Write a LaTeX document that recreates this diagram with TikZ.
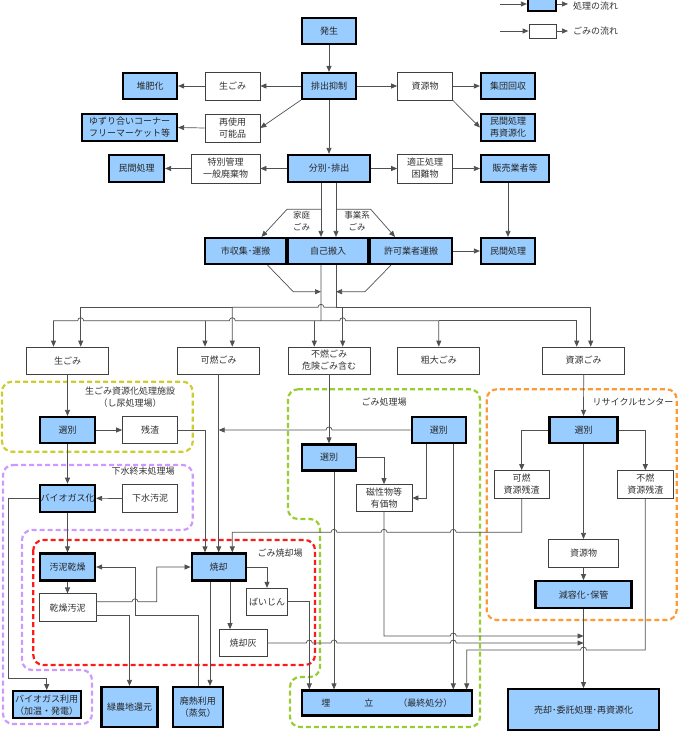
\documentclass[tikz,border=0pt]{standalone}
\usepackage{fontspec}
\setmainfont{Noto Sans CJK JP}
\usetikzlibrary{arrows.meta}
\definecolor{cProc}{HTML}{99CCFF}
\definecolor{cNama}{HTML}{CCCC33}
\definecolor{cGesui}{HTML}{CC99FF}
\definecolor{cShou}{HTML}{FF1A1A}
\definecolor{cShori}{HTML}{99CC33}
\definecolor{cRecy}{HTML}{FF9933}
\definecolor{cLine}{HTML}{505050}

% hop over a vertical line, going right / going left
\newcommand{\hopR}[2]{-- ({#1-3},#2) arc[start angle=180,end angle=360,radius=3]}
\newcommand{\hopL}[2]{-- ({#1+3},#2) arc[start angle=0,end angle=-180,radius=3]}

\begin{document}
\begin{tikzpicture}[
    x=1pt, y=-1pt,
    font=\fontsize{9}{12}\selectfont,
    proc/.style={draw=black, line width=2.2pt, fill=cProc, align=center,
                 inner sep=0pt, text=black!85},
    gomi/.style={draw=black!75, line width=0.7pt, fill=white, align=center,
                 inner sep=0pt, text=black!80},
    sz/.style 2 args={minimum width=#1, minimum height=#2},
    region/.style={dash pattern=on 5pt off 3pt, line width=2.2pt,
                   rounded corners=10pt},
    ln/.style={draw=cLine, line width=0.7pt},
    arr/.style={ln, -{Triangle[length=6pt,width=5pt]}},
    lbl/.style={inner sep=1pt, text=black!80, align=center},
]
\useasboundingbox (0,0) rectangle (678,741);

% ===================== Leyenda =====================
\node[proc, sz={28}{14}] (lgProc) at (542,4) {};
\node[gomi, sz={27}{14}] (lgGomi) at (542.5,31) {};
\coordinate (lgProcIn) at (500,4);
\coordinate (lgProcOut) at (568,4);
\coordinate (lgGomiIn) at (500,31);
\coordinate (lgGomiOut) at (568,31);
\draw[arr] (lgProcIn) -- (lgProc.west);
\draw[arr] (lgProc.east) -- (lgProcOut);
\draw[arr] (lgGomiIn) -- (lgGomi.west);
\draw[arr] (lgGomi.east) -- (lgGomiOut);
\node[lbl, anchor=west] (lgProcTxt) at (572,6) {処理の流れ};
\node[lbl, anchor=west] (lgGomiTxt) at (572,31) {ごみの流れ};

% ===================== Areas =====================
\draw[region, draw=cNama] (2,381.7) rectangle (192.7,451.7);
\draw[region, draw=cGesui] (3,465) -- (192.7,465) -- (192.7,530) -- (22,530)
      -- (22,670) -- (92,670) -- (92,724) -- (3,724) -- cycle;
\draw[region, draw=cShou] (33.3,540) rectangle (315,665);
\draw[region, draw=cShori] (288,389.3) -- (480,389.3) -- (480,727) -- (290,727)
      -- (290,677) -- (320,677) -- (320,519) -- (288,519) -- cycle;
\draw[region, draw=cRecy] (486.7,389.3) rectangle (676.7,620);

\node[lbl] (namaLbl) at (130,397.6) {生ごみ資源化処理施設\\（し尿処理場）};
\node[lbl] (gesuiLbl) at (143,471) {下水終末処理場};
\node[lbl] (shouLbl) at (280,553) {ごみ焼却場};
\node[lbl] (shoriLbl) at (384,402) {ごみ処理場};
\node[lbl] (recyLbl) at (633,402) {リサイクルセンター};

% ===================== Generation / discharge =====================
\node[proc, sz={54}{26}] (hassei) at (329,31) {発生};
\node[proc, sz={54}{26}] (yokusei) at (329,86) {排出抑制};
\node[gomi, sz={55}{28}] (namaA) at (232.5,86) {生ごみ};
\node[proc, sz={54}{26}] (taihi) at (150,86) {堆肥化};
\node[gomi, sz={55}{28}] (saishiyo) at (232.5,128) {再使用\\可能品};
\node[proc, sz={95}{27}] (yuzuri) at (129.5,127.5) {ゆずり合いコーナー\\フリーマーケット等};
\node[proc, sz={82}{27}] (bunbetsu) at (329,168.5) {分別･排出};
\node[gomi, sz={69}{29}] (tokubetsu) at (225.5,168.5) {特別管理\\一般廃棄物};
\node[proc, sz={55}{27}] (minkanA) at (136.5,168.5) {民間処理};
\node[gomi, sz={55}{28}] (shigenA) at (425,86) {資源物};
\node[proc, sz={54}{26}] (shudan) at (508,86) {集団回収};
\node[proc, sz={54}{27}] (minkanB) at (508,127.5) {民間処理\\再資源化};
\node[gomi, sz={55}{29}] (tekisei) at (425,168.5) {適正処理\\困難物};
\node[proc, sz={68}{27}] (hanbai) at (515,168.5) {販売業者等};

\draw[arr] (hassei.south) -- (yokusei.north);
\draw[arr] (yokusei.west) -- (namaA.east);
\draw[arr] (namaA.west) -- (taihi.east);
\draw[arr] (yokusei.south west) -- (saishiyo.east);
\draw[arr] (saishiyo.west) -- (yuzuri.east);
\draw[arr] (yokusei.south) -- (bunbetsu.north);
\draw[arr] (yokusei.east) -- (shigenA.west);
\draw[arr] (shigenA.east) -- (shudan.west);
\draw[arr] (shigenA.south east) -- (minkanB.west);
\draw[arr] (bunbetsu.west) -- (tokubetsu.east);
\draw[arr] (tokubetsu.west) -- (minkanA.east);
\draw[arr] (bunbetsu.east) -- (tekisei.west);
\draw[arr] (tekisei.east) -- (hanbai.west);

% ===================== Collection =====================
\node[proc, sz={81}{26}] (shishu) at (245.5,251) {市収集･運搬};
\node[proc, sz={80}{26}] (jiko) at (328,251) {自己搬入};
\node[proc, sz={82}{26}] (kyoka) at (411,251) {許可業者運搬};
\node[proc, sz={54}{26}] (minkanC) at (508,251) {民間処理};
\node[lbl, font=\fontsize{8.5}{12}\selectfont] (katei) at (301.7,221) {家庭\\ごみ};
\node[lbl, font=\fontsize{8.5}{12}\selectfont] (jigyo) at (357,221) {事業系\\ごみ};

\draw[arr] ([xshift=-8]bunbetsu.south) -- ([xshift=-7]jiko.north);
\draw[arr] ([xshift=7]bunbetsu.south) -- ([xshift=8]jiko.north);
\draw[arr] (321,209.3) -- (287,209.3) -- ([xshift=16]shishu.north);
\draw[arr] (336,209.3) -- (370.7,209.3) -- ([xshift=-16]kyoka.north);
\draw[arr] (hanbai.south -| minkanC.north) -- (minkanC.north);
\draw[arr] (kyoka.east) -- (minkanC.west);

% ===================== Waste types =====================
\node[gomi, sz={82}{27}] (namaB) at (67.5,360.5) {生ごみ};
\node[gomi, sz={82}{27}] (kanen) at (218.7,360.5) {可燃ごみ};
\node[gomi, sz={82}{27}] (funen) at (329,360.5) {不燃ごみ\\危険ごみ含む};
\node[gomi, sz={82}{27}] (sodai) at (438.8,360.5) {粗大ごみ};
\node[gomi, sz={82}{27}] (shigengomi) at (583.7,360.5) {資源ごみ};

\draw[arr] ([xshift=22]shishu.south) -- (293.3,291.7) -- (321,291.7);
\draw[arr] ([xshift=-20]kyoka.south) -- (365,291.7) -- (336,291.7);

% distribution line A
\draw[arr] ([xshift=-7]jiko.south) -- (321,320.7) \hopL{232.3}{320.7} \hopL{80.7}{320.7}
      -| ([xshift=-14]namaB.north);
\draw[arr] (205,320.7) -- ([xshift=-13.7]kanen.north);
\draw[arr] (314.3,320.7) -- ([xshift=-14.7]funen.north);
\draw[arr] (321,320.7) \hopR{342.7}{320.7} -| (sodai.north);
\draw[arr] (438.8,320.7) -| ([xshift=-7]shigengomi.north);
% distribution line B
\draw[ln] ([xshift=8]jiko.south) -- (336,307.3);
\draw[arr] (336,307.3) \hopL{321}{307.3} -- (232.3,307.3) -- ([xshift=13.6]kanen.north);
\draw[arr] (232.3,307.3) -| ([xshift=13.2]namaB.north);
\draw[arr] (336,307.3) -| ([xshift=7]shigengomi.north);
\draw[arr] (342.7,307.3) -- ([xshift=13.7]funen.north);

% ===================== Facilities =====================
\node[proc, sz={55}{26}] (senA) at (67.5,430) {選別};
\node[gomi, sz={55}{27}] (zansa) at (150,430) {残渣};
\node[proc, sz={55}{27}] (biogas) at (67.5,498.3) {バイオガス化};
\node[gomi, sz={55}{28}] (gesui) at (150,498.5) {下水汚泥};
\node[proc, sz={55}{27}] (odei) at (67.5,567) {汚泥乾燥};
\node[gomi, sz={57}{28}] (kanso) at (67.5,607.8) {乾燥汚泥};
\node[proc, sz={54}{27}] (shokyaku) at (218.7,567) {焼却};
\node[gomi, sz={41}{27}] (baijin) at (267,601.7) {ばいじん};
\node[gomi, sz={48}{27}] (shoukyakubai) at (243,643) {焼却灰};
\node[proc, sz={68}{27}] (bioriyo) at (46.7,704.7) {バイオガス利用\\（加温・発電）};
\node[proc, sz={56}{40}] (ryokuno) at (129.5,707) {緑農地還元};
\node[proc, sz={50}{40}] (hainetsu) at (197.8,707) {廃熱利用\\（蒸気）};

\node[proc, sz={54}{26}] (senB) at (438.8,430) {選別};
\node[proc, sz={54}{26}] (senC) at (329,457.5) {選別};
\node[gomi, sz={56}{27}] (jisei) at (384,498) {磁性物等\\有価物};
\node[proc, sz={170}{25}] (umetate) at (386.85,703)
      {埋\hspace{34pt}立\hspace{25pt}（最終処分）};

\node[proc, sz={68}{26}] (senD) at (583.5,430) {選別};
\node[gomi, sz={55}{28}] (kanenZ) at (521.7,484.5) {可燃\\資源残渣};
\node[gomi, sz={56}{28}] (funenZ) at (645.3,484.5) {不燃\\資源残渣};
\node[gomi, sz={70}{28}] (shigenB) at (583.5,553.3) {資源物};
\node[proc, sz={96}{27}] (genyo) at (583.5,594.7) {減容化･保管};
\node[proc, sz={151}{41}] (baikyaku) at (583.5,709.7) {売却･委託処理･再資源化};

\coordinate (mergeJ) at (583.5,636);
\coordinate (mergeH) at (583.5,643);

% raw garbage, sewage sludge
\draw[arr] (namaB.south) -- (senA.north);
\draw[arr] (senA.east) -- (zansa.west);
\draw[arr] (senA.south) -- (biogas.north);
\draw[arr] (gesui.west) -- (biogas.east);
\draw[arr] (biogas.south) -- (odei.north);
\draw[arr] (biogas.west) -- (8.3,498.3) -- (8.3,678.3) -| (bioriyo.north);
\draw[arr] (odei.south) -- (kanso.north);
\draw[arr] ([yshift=6pt]kanso.east) \hopR{135}{601.8} -- (156.7,601.8) |- (shokyaku.west);
\draw[arr] ([yshift=-8pt]kanso.east) -| (ryokuno.north);
\draw[arr] ([xshift=0.5]hainetsu.north) -- (198.3,615) -- (135,615) |- (odei.east);

% incineration
\draw[arr] (zansa.east) -| ([xshift=-13.7]shokyaku.north);
\draw[arr] (kanen.south) -- (shokyaku.north);
\draw[arr] (shokyaku.east) -| (baijin.north);
\draw[arr] ([xshift=11.3]shokyaku.south) -- ([xshift=-13]shoukyakubai.north);
\draw[arr] ([xshift=-8.7]shokyaku.south) -- ([xshift=12.2]hainetsu.north);
\draw[arr] (baijin.east) -| ([xshift=-77.55]umetate.north);
\draw[arr] (shoukyakubai.east) \hopR{309.3}{643} \hopR{334}{643} \hopR{453.3}{643}
      -- (mergeH);

% sorting of bulky / non-burnable waste
\draw[arr] (senB.west) \hopL{329}{430} -- (218.7,430);
\draw[arr] (funen.south) -- (senC.north);
\draw[arr] (senC.east) -| (jisei.north);
\draw[arr] ([xshift=-12.8]senB.south) |- (jisei.east);
\draw[arr] ([xshift=5]senC.south) -- ([xshift=-52.85]umetate.north);
\draw[arr] ([xshift=14.5]senB.south) -- ([xshift=66.45]umetate.north);
\draw[arr] (jisei.south) -- (384,636) \hopR{453.3}{636} -- (mergeJ);

% recycling centre
\draw[arr] (shigengomi.south) -- (senD.north);
\draw[arr] (senD.west) -| (kanenZ.north);
\draw[arr] (senD.east) -| (funenZ.north);
\draw[arr] (senD.south) -- (shigenB.north);
\draw[arr] (shigenB.south) -- (genyo.north);
\draw[arr] (genyo.south) -- (baikyaku.north);
\draw[arr] (kanenZ.south) -- (521.7,532.3) \hopL{453.3}{532.3} \hopL{384}{532.3}
      \hopL{334}{532.3} -| ([xshift=13.6]shokyaku.north);
\draw[arr] (funenZ.south) -- (645.3,650) \hopL{583.5}{650} -| ([xshift=79.85]umetate.north);

\end{tikzpicture}
\end{document}
